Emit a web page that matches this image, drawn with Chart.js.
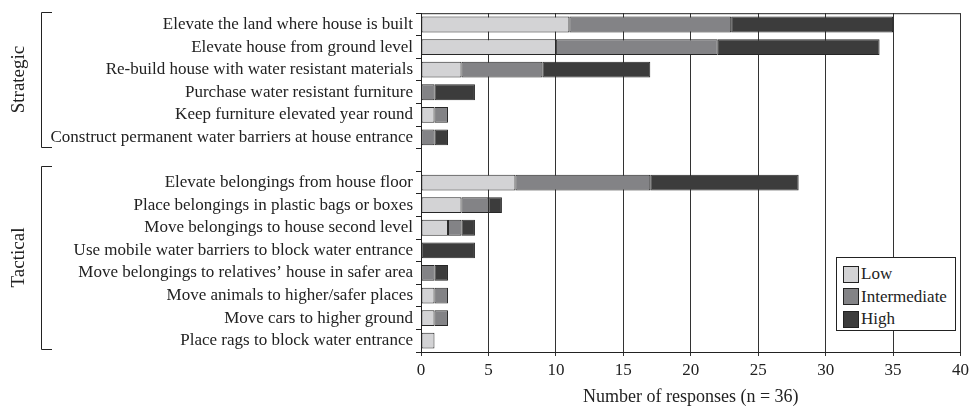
<!DOCTYPE html>
<html>
<head>
<meta charset="utf-8">
<script src="https://cdn.jsdelivr.net/npm/chart.js@4.4.1/dist/chart.umd.min.js"></script>
<style>
  html, body { margin: 0; padding: 0; background: #fff; }
  #wrap { position: relative; width: 973px; height: 412px; }
  #legend {
    position: absolute; left: 836px; top: 257px; width: 120px; height: 74px;
    border: 1px solid #222; background: #fff; box-sizing: border-box;
    font-family: "Liberation Serif", serif; font-size: 17px; color: #222;
    padding: 5px 0 0 6px;
  }
  #legend div { height: 22.5px; display: flex; align-items: center; }
  #legend span.sw { width: 16px; height: 17px; border: 1px solid #222; margin-right: 2px; box-sizing: border-box; }
</style>
</head>
<body>
<div id="wrap">
  <canvas id="chart" width="973" height="412"></canvas>
  <div id="legend"></div>
</div>
<script>
// categories (empty slot separates the two groups)
const measures = [
  'Elevate the land where house is built',
  'Elevate house from ground level',
  'Re-build house with water resistant materials',
  'Purchase water resistant furniture',
  'Keep furniture elevated year round',
  'Construct permanent water barriers at house entrance',
  '',
  'Elevate belongings from house floor',
  'Place belongings in plastic bags or boxes',
  'Move belongings to house second level',
  'Use mobile water barriers to block water entrance',
  'Move belongings to relatives\u2019 house in safer area',
  'Move animals to higher/safer places',
  'Move cars to higher ground',
  'Place rags to block water entrance'
];

const lowVals  = [11, 10, 3, 0, 1, 0, null, 7, 3, 2, 0, 0, 1, 1, 1];
const midVals  = [12, 12, 6, 1, 1, 1, null, 10, 2, 1, 0, 1, 1, 1, 0];
const highVals = [12, 12, 8, 3, 0, 1, null, 11, 1, 1, 4, 1, 0, 0, 0];

const xTicks = [0, 5, 10, 15, 20, 25, 30, 35, 40];

const colors = { low: '#d3d3d5', mid: '#838386', high: '#3c3c3c' };
const font = 'Liberation Serif';

// === Group brackets + top frame line ===
const groupPlugin = {
  id: 'groups',
  afterDraw(chart) {
    const ctx = chart.ctx;
    const area = chart.chartArea;
    ctx.save();
    ctx.strokeStyle = '#222';
    ctx.lineWidth = 1;
    ctx.beginPath();
    ctx.moveTo(area.left, area.top + 0.5);
    ctx.lineTo(area.right, area.top + 0.5);
    ctx.stroke();

    const brackets = [
      { text: 'Strategic', top: 12, bottom: 147 },
      { text: 'Tactical', top: 166, bottom: 349 }
    ];
    ctx.fillStyle = '#222';
    ctx.font = '19px "' + font + '"';
    ctx.textAlign = 'center';
    ctx.textBaseline = 'middle';
    brackets.forEach(b => {
      ctx.beginPath();
      ctx.moveTo(52, b.top + 0.5);
      ctx.lineTo(41.5, b.top + 0.5);
      ctx.lineTo(41.5, b.bottom + 0.5);
      ctx.lineTo(52, b.bottom + 0.5);
      ctx.stroke();
      ctx.save();
      ctx.translate(19, (b.top + b.bottom) / 2);
      ctx.rotate(-Math.PI / 2);
      ctx.fillText(b.text, 0, 0);
      ctx.restore();
    });
    ctx.restore();
  }
};

// zero-width segments are not drawn
const ds = (label, data, color) => ({
  label,
  data: data.map(v => (v ? v : null)),
  backgroundColor: color,
  borderColor: '#262626',
  borderWidth: 1,
  borderSkipped: false,
  barPercentage: 0.7,
  categoryPercentage: 1
});

new Chart(document.getElementById('chart'), {
  type: 'bar',
  data: {
    labels: measures,
    datasets: [
      ds('Low', lowVals, colors.low),
      ds('Intermediate', midVals, colors.mid),
      ds('High', highVals, colors.high)
    ]
  },
  options: {
    indexAxis: 'y',
    responsive: false,
    animation: false,
    layout: { padding: { top: 9, right: 11, left: 0, bottom: 0 } },
    plugins: { legend: { display: false }, tooltip: { enabled: false } },
    scales: {
      x: {
        stacked: true,
        min: 0, max: 40,
        afterBuildTicks: s => { s.ticks = xTicks.map(v => ({ value: v })); },
        grid: { color: '#333', tickLength: 4 },
        border: { color: '#222' },
        ticks: { color: '#222', font: { family: font, size: 17 }, padding: 4 },
        title: {
          display: true, text: 'Number of responses (n = 36)',
          color: '#222', font: { family: font, size: 18 },
          padding: { top: 2, bottom: 4 }
        }
      },
      y: {
        stacked: true,
        afterFit: s => { s.width = 421; },
        grid: { drawOnChartArea: false, color: '#222', tickLength: 5, offset: true },
        border: { color: '#222' },
        ticks: { color: '#222', font: { family: font, size: 17 }, padding: 3, autoSkip: false }
      }
    }
  },
  plugins: [groupPlugin]
});

// legend box
const legendEl = document.getElementById('legend');
[['Low', colors.low], ['Intermediate', colors.mid], ['High', colors.high]].forEach(([t, c]) => {
  const row = document.createElement('div');
  row.innerHTML = `<span class="sw" style="background:${c}"></span>${t}`;
  legendEl.appendChild(row);
});
</script>
</body>
</html>
